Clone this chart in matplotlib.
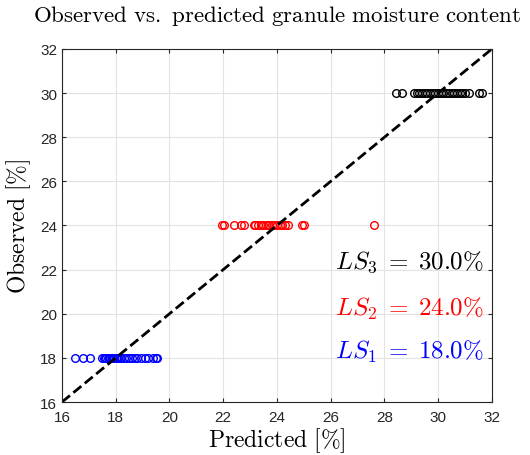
import numpy as np
import matplotlib.pyplot as plt

plt.rcParams['mathtext.fontset'] = 'cm'
plt.rcParams['font.family'] = 'Liberation Sans'

# predicted values for each level (observed = level)
pred_ls1 = [16.49, 16.78, 17.05, 17.5, 17.55, 17.6, 17.65, 17.7, 17.75, 17.8, 17.85, 17.9,
            17.95, 18.0, 18.05, 18.1, 18.15, 18.2, 18.3, 18.4, 18.5, 18.6, 18.7, 18.8,
            18.95, 19.1, 19.2, 19.4, 19.5, 19.55]
pred_ls2 = [21.94, 22.02, 22.39, 22.65, 22.77, 23.14, 23.2, 23.3, 23.4, 23.5, 23.6, 23.65,
            23.7, 23.8, 23.9, 24.0, 24.1, 24.2, 24.3, 24.41, 24.95, 25.0, 27.63]
pred_ls3 = [28.45, 28.64, 29.12, 29.2, 29.3, 29.4, 29.5, 29.6, 29.7, 29.8, 29.9, 30.0,
            30.1, 30.2, 30.3, 30.4, 30.5, 30.6, 30.7, 30.8, 30.9, 31.0, 31.14, 31.51, 31.63]
obs_ls1 = 18.0
obs_ls2 = 24.0
obs_ls3 = 30.0

axcol = '#262626'

fig = plt.figure(figsize=(5.3, 4.56), dpi=100)
ax = fig.add_axes([0.117, 0.1162, 0.811, 0.7742])

ax.plot(pred_ls1, [obs_ls1] * len(pred_ls1), 'o', mfc='none', mec='blue', ms=5.5, mew=1)
ax.plot(pred_ls2, [obs_ls2] * len(pred_ls2), 'o', mfc='none', mec='red', ms=5.5, mew=1)
ax.plot(pred_ls3, [obs_ls3] * len(pred_ls3), 'o', mfc='none', mec='black', ms=5.5, mew=1)
ax.plot([16, 32], [16, 32], 'k--', lw=2)

ax.set_xlim(16, 32)
ax.set_ylim(16, 32)
ax.set_xticks(np.arange(16, 33, 2))
ax.set_yticks(np.arange(16, 33, 2))
ax.grid(True, color='#e3e3e3', lw=0.8)
ax.set_axisbelow(True)
ax.tick_params(direction='in', top=True, right=True, labelsize=11, length=3,
               color=axcol, labelcolor=axcol)
ax.tick_params(axis='x', pad=6)
for s in ax.spines.values():
    s.set_linewidth(0.8)
    s.set_color(axcol)

ax.set_xlabel(r'$\mathrm{Predicted\ [\%]}$', fontsize=17, labelpad=1)
ax.set_ylabel(r'$\mathrm{Observed\ [\%]}$', fontsize=17, labelpad=5)
ax.set_title(r'$\mathrm{Observed\ vs.\ predicted\ granule\ moisture\ content}$',
             fontsize=16.5, pad=20)

ax.text(26.16, 22.39, r'$LS_3\;=\;30.0\%$', color='black', fontsize=18, va='center')
ax.text(26.16, 20.26, r'$LS_2\;=\;24.0\%$', color='red', fontsize=18, va='center')
ax.text(26.16, 18.31, r'$LS_1\;=\;18.0\%$', color='blue', fontsize=18, va='center')

fig.savefig('out.png', dpi=100)
